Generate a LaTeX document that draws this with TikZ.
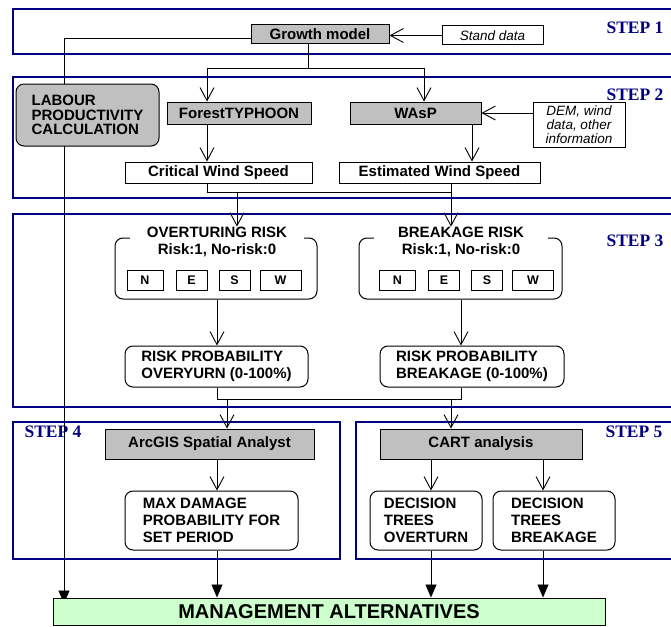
\documentclass[tikz,border=0pt]{standalone}
\usepackage{fontspec}
\setmainfont{Liberation Sans}
\newfontfamily\stepfont{Liberation Serif}
\usetikzlibrary{arrows.meta}
\definecolor{mynavy}{RGB}{0,0,128}
\definecolor{mygray}{RGB}{192,192,192}
\definecolor{mygreen}{RGB}{204,255,204}
\pgfdeclarelayer{background}
\pgfsetlayers{background,main}

\begin{document}
\begin{tikzpicture}[x=1pt,y=-1pt,
        box/.style={draw,line width=1pt,inner sep=0pt,align=left,font=\fontsize{15}{17}\selectfont\bfseries},
        graybox/.style={box,fill=mygray},
        roundbox/.style={box,fill=white,rounded corners=8pt},
        notebox/.style={box,fill=white,font=\fontsize{13.5}{14}\selectfont\itshape},
        titlebox/.style={box,draw=none,fill=white,align=center,minimum width=174},
        dirbox/.style={box,minimum height=20,font=\fontsize{12.5}{13}\selectfont\bfseries},
        stepframe/.style={draw=mynavy,line width=1.8pt},
        steplabel/.style={text=mynavy,inner sep=0pt,font=\stepfont\fontsize{17.5}{18}\selectfont\bfseries},
        open/.style={-{Straight Barb[length=13pt,width=14pt,line width=0.9pt]},line width=0.8pt},
        filled/.style={-{Triangle[length=13pt,width=11pt]},line width=0.8pt}]
    \clip (0,0) rectangle (671,626);
    \foreach \c in {64,207,217,227,237,308,424,431,451,461,472,543}
        \coordinate (x\c) at (\c,0);
    % step frames
    \draw[stepframe] (13,9) rectangle (690,54);
    \draw[stepframe] (13,77) rectangle (690,198);
    \draw[stepframe] (13,214) rectangle (690,407);
    \draw[stepframe] (13,422) rectangle (340,559);
    \draw[stepframe] (356,422) rectangle (690,559);
    \node[steplabel] (s1) at (635,27.5) {STEP 1};
    \node[steplabel] (s2) at (635,95) {STEP 2};
    \node[steplabel] (s3) at (635,241) {STEP 3};
    \node[steplabel] (s4) at (53,432) {STEP 4};
    \node[steplabel] (s5) at (634,432) {STEP 5};
    % step 1
    \node[graybox,minimum width=138,minimum height=19] (growth) at (320,34.5) {Growth model};
    \node[notebox,minimum width=101,minimum height=19] (stand) at (492.5,35.5) {Stand data};
    % step 2
    \node[graybox,rounded corners=8pt,minimum width=143,minimum height=62,font=\fontsize{15}{14.5}\selectfont\bfseries] (labour) at (87.5,115) {LABOUR\\PRODUCTIVITY\\CALCULATION};
    \node[graybox,minimum width=144,minimum height=22] (typhoon) at (239,113) {ForestTYPHOON};
    \node[graybox,minimum width=131,minimum height=22] (wasp) at (415.5,113) {WAsP};
    \node[notebox,align=center,minimum width=92,minimum height=45] (dem) at (579,124.5) {DEM, wind\\data, other\\information};
    \node[box,minimum width=187,minimum height=21] (critical) at (218.5,172.5) {Critical Wind Speed};
    \node[box,minimum width=201,minimum height=21] (estimated) at (439.5,172.5) {Estimated Wind Speed};
    % step 3
    \node[roundbox,minimum width=202,minimum height=61] (ovgroup) at (216,268.5) {};
    \node[roundbox,minimum width=203,minimum height=61] (brgroup) at (460.5,268.5) {};
    \node[titlebox] (ovtitle) at (217,242) {OVERTURING RISK\\Risk:1, No-risk:0};
    \node[titlebox] (brtitle) at (461,242) {BREAKAGE RISK\\Risk:1, No-risk:0};
    \foreach \g/\dx in {ov/0,br/252.5}
        \foreach \d/\x/\w in {N/145/36,E/191.5/31,S/234.5/31,W/280.5/41}
            \node[dirbox,minimum width=\w] (\g\d) at (\x+\dx,280) {\d};
    \node[roundbox,minimum width=183,minimum height=41] (riskov) at (216.5,366.5) {RISK PROBABILITY\\OVERYURN (0-100\%)};
    \node[roundbox,minimum width=184,minimum height=41] (riskbr) at (472,366.5) {RISK PROBABILITY\\BREAKAGE (0-100\%)};
    % step 4 and 5
    \node[graybox,minimum width=209,minimum height=30] (arcgis) at (209.5,444) {ArcGIS Spatial Analyst};
    \node[graybox,minimum width=202,minimum height=30] (cart) at (481,444) {CART analysis};
    \node[roundbox,minimum width=173,minimum height=59] (maxdam) at (211.5,520.5) {MAX DAMAGE\\PROBABILITY FOR\\SET PERIOD};
    \node[roundbox,minimum width=112,minimum height=59] (dtov) at (426,520.5) {DECISION\\TREES\\OVERTURN};
    \node[roundbox,minimum width=122,minimum height=59] (dtbr) at (554,520.5) {DECISION\\TREES\\BREAKAGE};
    \node[box,fill=mygreen,minimum width=552,minimum height=27,font=\fontsize{20}{20}\selectfont\bfseries] (mgmt) at (329,611.5) {MANAGEMENT ALTERNATIVES};
    % connectors
    \draw[open] (stand.west) -- (stand.west -| growth.east);
    \coordinate (j1) at (0,68);
    \draw[line width=0.8pt] (growth.south -| x308) -- (j1 -| x308);
    \draw[open] (j1 -| x308) -| (typhoon.north -| x207);
    \draw[open] (j1 -| x308) -| (wasp.north -| x424);
    \draw[open] (dem.west |- wasp.east) -- (wasp.east);
    \draw[open] (typhoon.south -| x207) -- (critical.north -| x207);
    \draw[open] (wasp.south -| x472) -- (estimated.north -| x472);
    \coordinate (j2) at (0,192);
    \draw[line width=0.8pt] (critical.south -| x207) -- (j2 -| x207) -- (j2 -| x451) -- (estimated.south -| x451);
    \draw[open] (j2 -| x237) -- (ovtitle.north -| x237);
    \draw[open] (j2 -| x451) -- (brtitle.north -| x451);
    \draw[open] (ovgroup.south -| x217) -- (riskov.north -| x217);
    \draw[open] (brgroup.south -| x461) -- (riskbr.north -| x461);
    \coordinate (j3) at (0,399);
    \draw[line width=0.8pt] (riskov.south -| x217) -- (j3 -| x217) -- (j3 -| x461) -- (riskbr.south -| x461);
    \draw[open] (j3 -| x227) -- (arcgis.north -| x227);
    \draw[open] (j3 -| x451) -- (cart.north -| x451);
    \draw[open] (arcgis.south -| x217) -- (maxdam.north -| x217);
    \draw[open] (cart.south -| x431) -- (dtov.north -| x431);
    \draw[open] (cart.south -| x543) -- (dtbr.north -| x543);
    \draw[filled] (maxdam.south -| x217) -- (mgmt.north -| x217);
    \draw[filled] (dtov.south -| x431) -- (mgmt.north -| x431);
    \draw[filled] (dtbr.south -| x543) -- (mgmt.north -| x543);
    \begin{pgfonlayer}{background}
        \draw[filled] ([yshift=-4pt]growth.west) -| ([yshift=-6pt]mgmt.north -| x64);
    \end{pgfonlayer}
\end{tikzpicture}
\end{document}
